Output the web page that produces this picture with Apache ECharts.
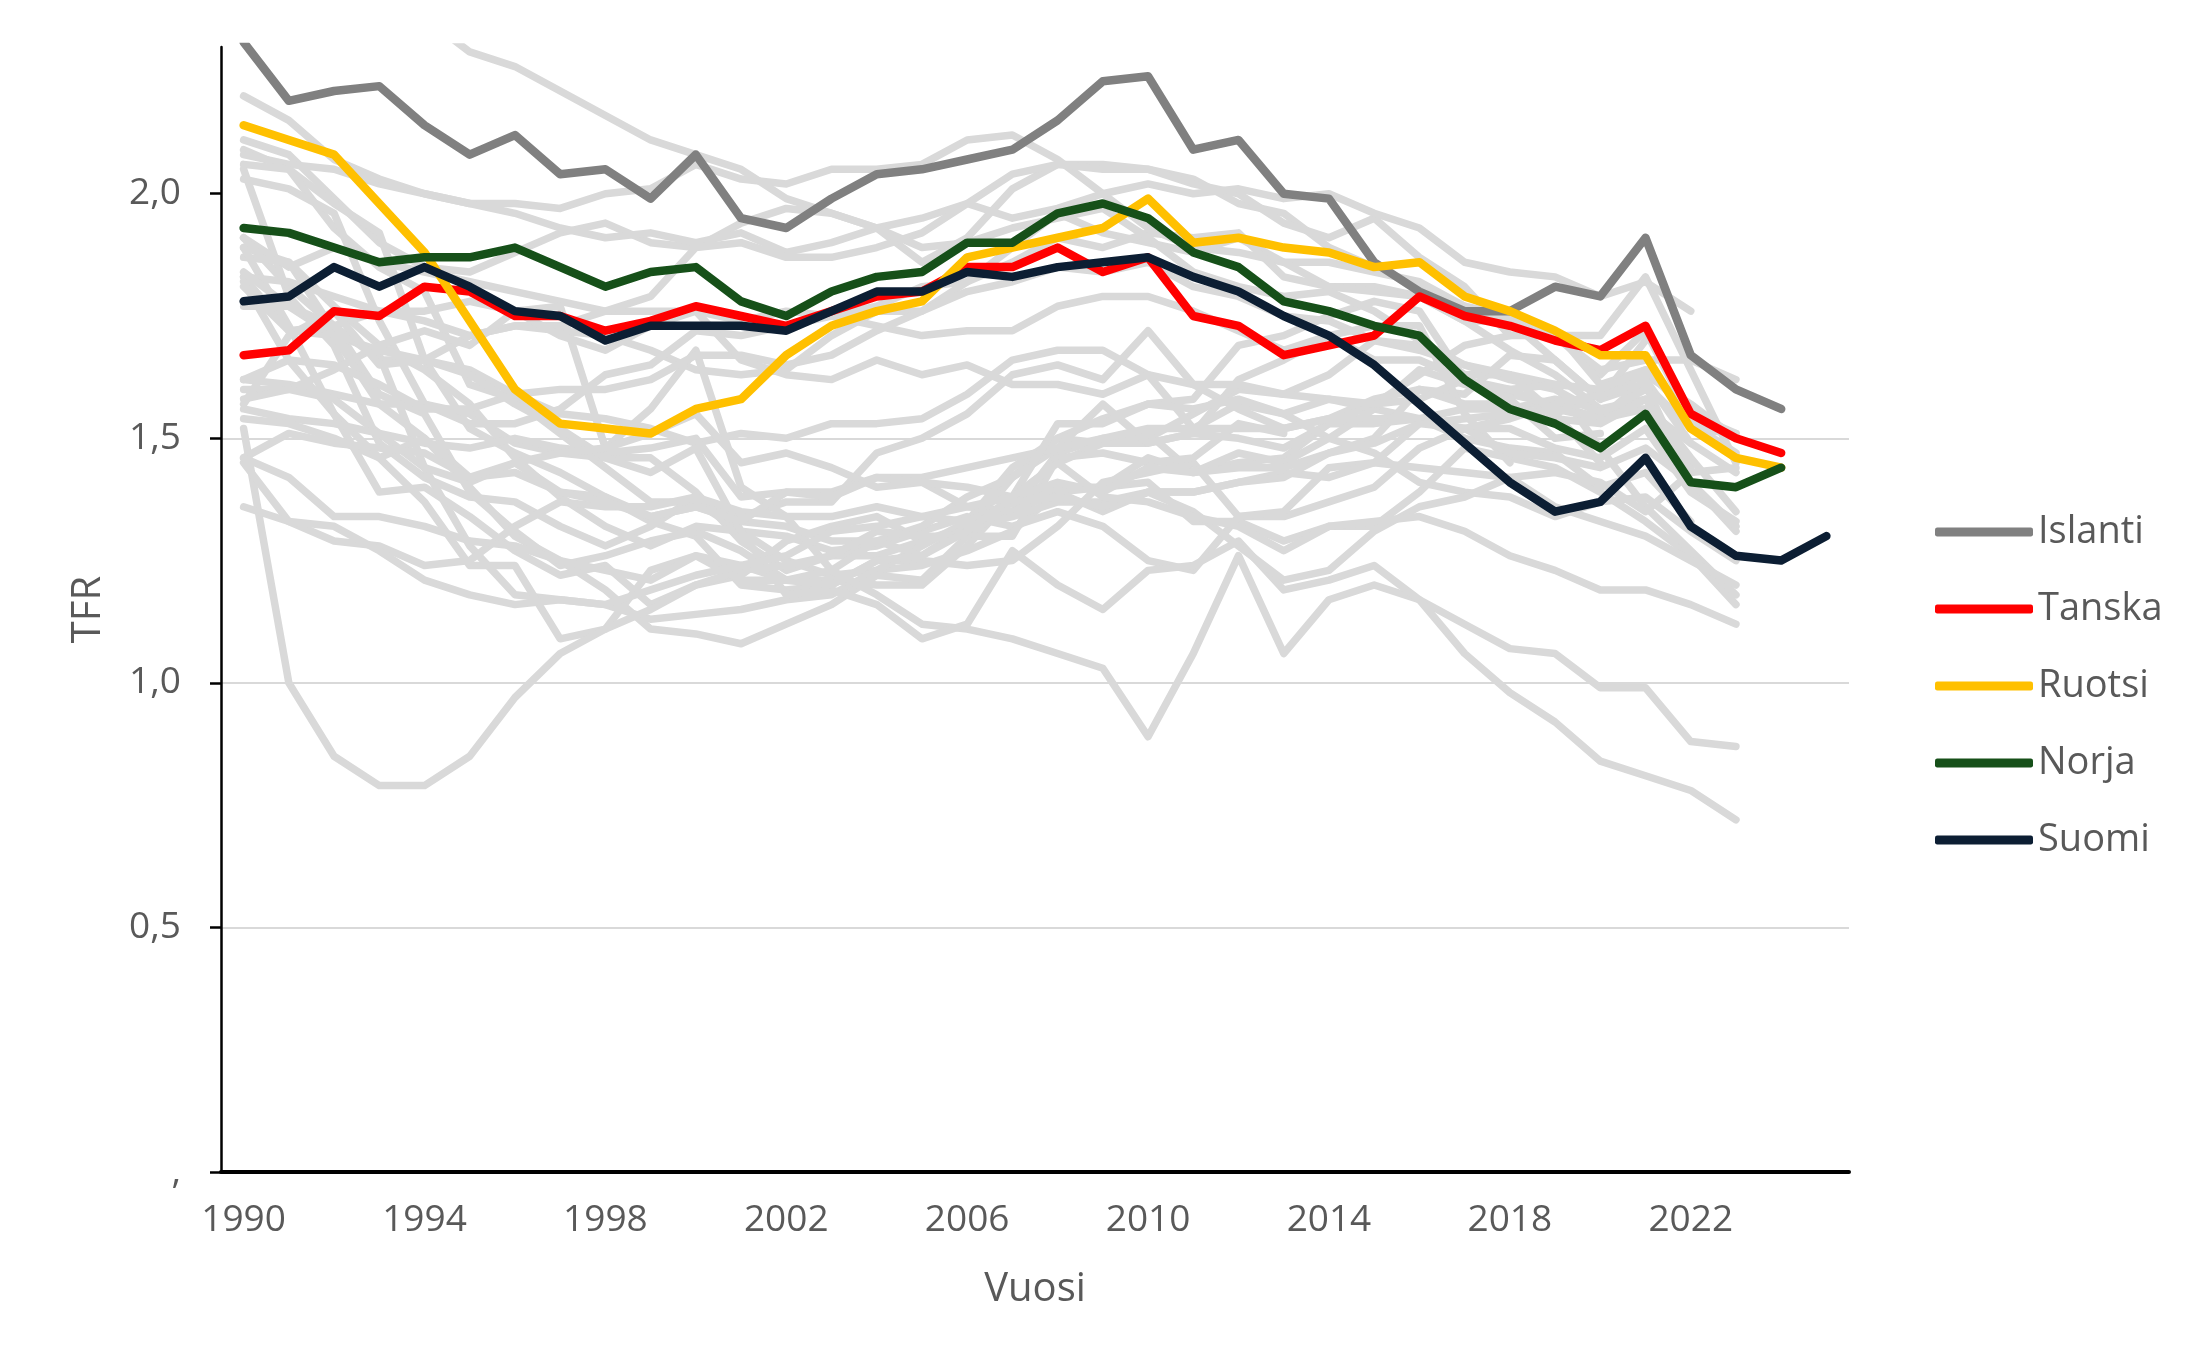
<!DOCTYPE html>
<html>
<head>
<meta charset="utf-8">
<script src="https://cdn.jsdelivr.net/npm/echarts@6/dist/echarts.min.js"></script>
<style>
html,body{margin:0;padding:0;background:#fff;}
#chart{width:2209px;height:1369px;}
</style>
</head>
<body>
<div id="chart"></div>
<script>
// ---- categories ----
const years = ['1990','1991','1992','1993','1994','1995','1996','1997','1998','1999',
  '2000','2001','2002','2003','2004','2005','2006','2007','2008','2009',
  '2010','2011','2012','2013','2014','2015','2016','2017','2018','2019',
  '2020','2021','2022','2023','2024','2025'];
const yTickValues = [0, 0.5, 1, 1.5, 2];

// ---- highlighted series ----
const islanti = [2.31,2.19,2.21,2.22,2.14,2.08,2.12,2.04,2.05,1.99,2.08,1.95,1.93,1.99,2.04,2.05,2.07,2.09,2.15,2.23,2.24,2.09,2.11,2.00,1.99,1.86,1.80,1.76,1.76,1.81,1.79,1.91,1.67,1.60,1.56];
const tanska  = [1.67,1.68,1.76,1.75,1.81,1.80,1.75,1.75,1.72,1.74,1.77,1.75,1.73,1.76,1.79,1.80,1.85,1.85,1.89,1.84,1.87,1.75,1.73,1.67,1.69,1.71,1.79,1.75,1.73,1.70,1.68,1.73,1.55,1.50,1.47];
const ruotsi  = [2.14,2.11,2.08,1.98,1.88,1.74,1.60,1.53,1.52,1.51,1.56,1.58,1.67,1.73,1.76,1.78,1.87,1.89,1.91,1.93,1.99,1.90,1.91,1.89,1.88,1.85,1.86,1.79,1.76,1.72,1.67,1.67,1.52,1.46,1.44];
const norja   = [1.93,1.92,1.89,1.86,1.87,1.87,1.89,1.85,1.81,1.84,1.85,1.78,1.75,1.80,1.83,1.84,1.90,1.90,1.96,1.98,1.95,1.88,1.85,1.78,1.76,1.73,1.71,1.62,1.56,1.53,1.48,1.55,1.41,1.40,1.44];
const suomi   = [1.78,1.79,1.85,1.81,1.85,1.81,1.76,1.75,1.70,1.73,1.73,1.73,1.72,1.76,1.80,1.80,1.84,1.83,1.85,1.86,1.87,1.83,1.80,1.75,1.71,1.65,1.57,1.49,1.41,1.35,1.37,1.46,1.32,1.26,1.25,1.30];

// ---- background (grey) series ----
const g_ireland   = [2.11,2.08,1.99,1.90,1.85,1.84,1.88,1.92,1.94,1.90,1.89,1.94,1.97,1.96,1.93,1.86,1.91,2.01,2.06,2.06,2.05,2.03,1.98,1.96,1.89,1.85,1.81,1.77,1.75,1.71,1.63,1.72,1.54,1.50];
const g_slovakia  = [2.09,2.05,1.98,1.92,1.66,1.52,1.47,1.43,1.38,1.33,1.30,1.20,1.19,1.20,1.25,1.25,1.24,1.25,1.32,1.41,1.43,1.45,1.34,1.34,1.37,1.40,1.48,1.52,1.54,1.57,1.59,1.63,1.57,1.50];
const g_usa       = [2.08,2.06,2.05,2.02,2.00,1.98,1.98,1.97,2.00,2.01,2.06,2.03,2.02,2.05,2.05,2.06,2.11,2.12,2.07,2.00,1.93,1.89,1.88,1.86,1.86,1.84,1.82,1.77,1.73,1.71,1.64,1.66,1.66,1.62];
const g_poland    = [2.06,2.05,1.93,1.85,1.80,1.61,1.58,1.51,1.44,1.37,1.37,1.31,1.25,1.22,1.23,1.24,1.27,1.31,1.39,1.40,1.41,1.33,1.33,1.29,1.32,1.32,1.39,1.48,1.46,1.44,1.39,1.33,1.26,1.16];
const g_estonia   = [2.05,1.79,1.69,1.49,1.42,1.38,1.37,1.32,1.28,1.32,1.38,1.34,1.37,1.37,1.47,1.50,1.55,1.63,1.65,1.62,1.72,1.61,1.56,1.52,1.54,1.58,1.60,1.59,1.67,1.66,1.58,1.61,1.41,1.31];
const g_lithuania = [2.03,2.01,1.96,1.74,1.57,1.55,1.49,1.47,1.46,1.46,1.39,1.29,1.23,1.26,1.26,1.29,1.32,1.35,1.47,1.50,1.50,1.55,1.60,1.59,1.63,1.70,1.69,1.63,1.63,1.61,1.48,1.36,1.27,1.18];
const g_newzeal   = [2.20,2.15,2.07,2.03,2.00,1.98,1.96,1.93,1.91,1.92,1.90,1.92,1.88,1.90,1.93,1.95,1.98,2.04,2.06,2.05,2.05,2.02,2.00,1.94,1.91,1.95,1.87,1.81,1.71,1.72,1.61,1.64];
const g_australia = [1.91,1.85,1.89,1.86,1.84,1.82,1.80,1.78,1.76,1.76,1.76,1.74,1.76,1.75,1.77,1.81,1.82,1.89,1.96,1.92,1.90,1.88,1.91,1.86,1.81,1.81,1.79,1.74,1.74,1.66,1.58,1.70];
const g_czechia   = [1.89,1.86,1.72,1.67,1.44,1.28,1.18,1.17,1.16,1.13,1.14,1.15,1.17,1.18,1.23,1.28,1.33,1.44,1.50,1.49,1.51,1.43,1.45,1.46,1.53,1.57,1.63,1.69,1.71,1.71,1.71,1.83,1.64,1.45];
const g_belarus   = [1.91,1.81,1.73,1.59,1.55,1.39,1.31,1.24,1.26,1.29,1.31,1.27,1.21,1.21,1.20,1.20,1.28,1.38,1.45,1.49,1.49,1.51,1.62,1.66,1.71,1.73,1.73,1.55,1.45];
const g_hungary   = [1.87,1.86,1.77,1.69,1.64,1.57,1.46,1.38,1.32,1.28,1.32,1.31,1.30,1.27,1.28,1.31,1.34,1.32,1.35,1.32,1.25,1.23,1.34,1.35,1.44,1.45,1.53,1.54,1.55,1.55,1.59,1.61,1.52,1.51];
const g_russia    = [1.89,1.73,1.55,1.39,1.40,1.34,1.27,1.22,1.24,1.16,1.20,1.22,1.29,1.32,1.34,1.29,1.31,1.42,1.50,1.54,1.57,1.58,1.69,1.71,1.75,1.78,1.76,1.62,1.58,1.50,1.51];
const g_canada    = [1.83,1.72,1.71,1.68,1.66,1.64,1.59,1.55,1.54,1.52,1.49,1.51,1.50,1.53,1.53,1.54,1.59,1.66,1.68,1.68,1.63,1.61,1.61,1.59,1.58,1.56,1.54,1.50,1.48,1.47,1.40,1.43,1.33];
const g_uk        = [1.83,1.82,1.79,1.76,1.74,1.71,1.73,1.72,1.71,1.68,1.64,1.63,1.64,1.71,1.76,1.76,1.82,1.86,1.91,1.89,1.92,1.91,1.92,1.83,1.81,1.80,1.79,1.74,1.68,1.63,1.56,1.56,1.49];
const g_ukraine   = [1.84,1.77,1.71,1.57,1.50,1.40,1.30,1.25,1.19,1.11,1.10,1.08,1.12,1.16,1.22,1.21,1.30,1.30,1.46,1.47,1.45,1.46,1.53,1.51];
const g_bulgaria  = [1.82,1.66,1.55,1.46,1.37,1.24,1.24,1.09,1.11,1.23,1.26,1.24,1.21,1.23,1.29,1.32,1.38,1.42,1.48,1.57,1.49,1.51,1.50,1.48,1.53,1.53,1.54,1.56,1.56,1.58,1.56,1.58];
const g_taiwan    = [1.81,1.72,1.73,1.76,1.76,1.78,1.76,1.77,1.48,1.56,1.68,1.40,1.34,1.23,1.18,1.12,1.11,1.09,1.06,1.03,0.89,1.06,1.26,1.06,1.17,1.20,1.17,1.12,1.07,1.06,0.99,0.99,0.88,0.87];
const g_france    = [1.77,1.77,1.73,1.66,1.66,1.71,1.73,1.73,1.76,1.79,1.89,1.90,1.87,1.87,1.89,1.92,1.98,1.95,1.97,2.00,2.02,2.00,2.01,1.99,2.00,1.96,1.93,1.86,1.84,1.83,1.79,1.82,1.76];
const g_netherl   = [1.62,1.61,1.59,1.57,1.57,1.53,1.53,1.56,1.63,1.65,1.72,1.71,1.73,1.75,1.73,1.71,1.72,1.72,1.77,1.79,1.79,1.76,1.72,1.68,1.71,1.66,1.66,1.62,1.59,1.57,1.54,1.62,1.49,1.43];
const g_belgium   = [1.62,1.66,1.65,1.61,1.56,1.56,1.59,1.60,1.60,1.62,1.67,1.67,1.65,1.67,1.72,1.76,1.80,1.82,1.85,1.84,1.86,1.81,1.79,1.75,1.74,1.70,1.68,1.65,1.62,1.60,1.55,1.60,1.53,1.47];
const g_luxemb    = [1.60,1.60,1.64,1.69,1.72,1.69,1.76,1.71,1.68,1.73,1.76,1.66,1.63,1.62,1.66,1.63,1.65,1.61,1.61,1.59,1.63,1.52,1.57,1.55,1.50,1.47,1.41,1.39,1.38,1.34,1.37,1.38,1.31,1.25];
const g_switz     = [1.58,1.60,1.58,1.51,1.49,1.48,1.50,1.48,1.47,1.48,1.50,1.38,1.39,1.39,1.42,1.42,1.44,1.46,1.48,1.50,1.52,1.52,1.52,1.52,1.54,1.54,1.54,1.52,1.52,1.48,1.46,1.52,1.39,1.33];
const g_korea     = [1.57,1.71,1.76,1.65,1.66,1.63,1.57,1.52,1.46,1.43,1.48,1.31,1.18,1.19,1.16,1.09,1.12,1.27,1.20,1.15,1.23,1.24,1.29,1.19,1.21,1.24,1.17,1.06,0.98,0.92,0.84,0.81,0.78,0.72];
const g_portugal  = [1.56,1.54,1.53,1.51,1.44,1.41,1.45,1.47,1.48,1.51,1.55,1.45,1.47,1.44,1.40,1.41,1.36,1.35,1.39,1.35,1.39,1.35,1.28,1.21,1.23,1.31,1.36,1.38,1.42,1.43,1.41,1.35,1.43,1.44];
const g_japan     = [1.54,1.53,1.50,1.46,1.50,1.42,1.43,1.39,1.38,1.34,1.36,1.33,1.32,1.29,1.29,1.26,1.32,1.34,1.37,1.37,1.39,1.39,1.41,1.43,1.42,1.45,1.44,1.43,1.42,1.36,1.33,1.30,1.25,1.20];
const g_eastger   = [1.52,1.00,0.85,0.79,0.79,0.85,0.97,1.06,1.11,1.15,1.20,1.23,1.24,1.26,1.31,1.30,1.30,1.37,1.40,1.40,1.46,1.43,1.47,1.45,1.50,1.56,1.64,1.61,1.60,1.56,1.54,1.56,1.44];
const g_germany   = [1.45,1.33,1.29,1.28,1.24,1.25,1.32,1.37,1.36,1.36,1.38,1.35,1.34,1.34,1.36,1.34,1.33,1.37,1.38,1.36,1.39,1.39,1.41,1.42,1.47,1.50,1.60,1.57,1.57,1.54,1.53,1.58,1.46,1.35];
const g_austria   = [1.46,1.51,1.49,1.48,1.47,1.42,1.45,1.39,1.37,1.34,1.36,1.33,1.39,1.38,1.42,1.41,1.40,1.38,1.41,1.39,1.44,1.43,1.44,1.44,1.47,1.49,1.53,1.52,1.47,1.46,1.44,1.48,1.41,1.32];
const g_slovenia  = [1.46,1.42,1.34,1.34,1.32,1.29,1.28,1.25,1.23,1.21,1.26,1.21,1.21,1.20,1.25,1.26,1.31,1.38,1.53,1.53,1.57,1.56,1.58,1.55,1.58,1.57,1.58,1.62,1.60,1.61,1.60,1.64,1.55,1.51];
const g_spain     = [1.36,1.33,1.32,1.27,1.21,1.18,1.16,1.17,1.16,1.19,1.22,1.24,1.26,1.31,1.32,1.34,1.36,1.38,1.45,1.38,1.37,1.34,1.32,1.27,1.32,1.33,1.34,1.31,1.26,1.23,1.19,1.19,1.16,1.12];
const g_chile     = [null,null,2.45,2.40,2.36,2.29,2.26,2.21,2.16,2.11,2.08,2.05,1.99,1.96,1.93,1.89,1.90,1.93,1.95,1.97,1.91,1.84,1.81,1.79,1.80,1.76,1.70,1.65,1.63,1.55,1.45];

const greyData = [g_ireland,g_slovakia,g_usa,g_poland,g_estonia,g_lithuania,g_newzeal,g_australia,
  g_czechia,g_belarus,g_hungary,g_russia,g_canada,g_uk,g_ukraine,g_bulgaria,g_taiwan,g_france,
  g_netherl,g_belgium,g_luxemb,g_switz,g_korea,g_portugal,g_japan,g_eastger,g_germany,g_austria,
  g_slovenia,g_spain,g_chile];

const highNames  = ['Islanti','Tanska','Ruotsi','Norja','Suomi'];
const highData   = [islanti, tanska, ruotsi, norja, suomi];
const highColors = ['#808080','#FF0000','#FFC000','#165019','#0C1E33'];

const FONT = '"Open Sans", "Noto Sans", sans-serif';
const TXT = '#595959';

const series = [];
greyData.forEach(function(d, i){
  series.push({
    name: 'g' + i, type: 'line', data: d, symbol: 'none', silent: true, z: 2,
    clip: true, connectNulls: false,
    lineStyle: { color: '#D9D9D9', width: 7.5, cap: 'round', join: 'round' },
    emphasis: { disabled: true }
  });
});
highData.forEach(function(d, i){
  series.push({
    name: highNames[i], type: 'line', data: d, symbol: 'none', z: 3 + i, clip: true,
    itemStyle: { color: highColors[i] },
    lineStyle: { color: highColors[i], width: 8.5, cap: 'round', join: 'round' },
    emphasis: { disabled: true }
  });
});

const chart = echarts.init(document.getElementById('chart'), null, { renderer: 'canvas' });
chart.setOption({
  animation: false,
  backgroundColor: '#ffffff',
  textStyle: { fontFamily: FONT },
  grid: { left: 221, right: 360, top: 47, bottom: 197, containLabel: false },
  legend: {
    data: highNames, orient: 'vertical', left: 1930, top: 508,
    icon: 'roundRect', itemWidth: 98, itemHeight: 9, itemGap: 39,
    textStyle: { fontSize: 38, color: TXT, fontFamily: FONT },
    selectedMode: false
  },
  xAxis: {
    type: 'category', data: years, boundaryGap: true,
    axisLine: { show: true, onZero: false, lineStyle: { color: '#000', width: 4 } },
    axisTick: { show: false },
    axisLabel: { interval: 3, color: TXT, fontSize: 37, margin: 30, fontFamily: FONT },
    splitLine: { show: false },
    name: 'Vuosi', nameLocation: 'middle', nameGap: 98,
    nameTextStyle: { fontSize: 40, color: TXT, fontFamily: FONT }
  },
  yAxis: {
    type: 'value', min: 0, max: 2.3, interval: 0.5,
    axisLine: { show: true, lineStyle: { color: '#000', width: 2.5 } },
    axisTick: { show: true, length: 11, inside: false, customValues: yTickValues,
      lineStyle: { color: '#000', width: 2.5 } },
    axisLabel: { customValues: yTickValues, color: TXT, fontSize: 37, margin: 40, fontFamily: FONT,
      formatter: function(v){ return v === 0 ? ',' : v.toFixed(1).replace('.', ','); } },
    splitLine: { show: true, showMaxLine: false, lineStyle: { color: '#D9D9D9', width: 2 } },
    name: 'TFR', nameLocation: 'middle', nameGap: 112, nameRotate: 90,
    nameTextStyle: { fontSize: 40, color: TXT, fontFamily: FONT }
  },
  series: series
});
</script>
</body>
</html>
